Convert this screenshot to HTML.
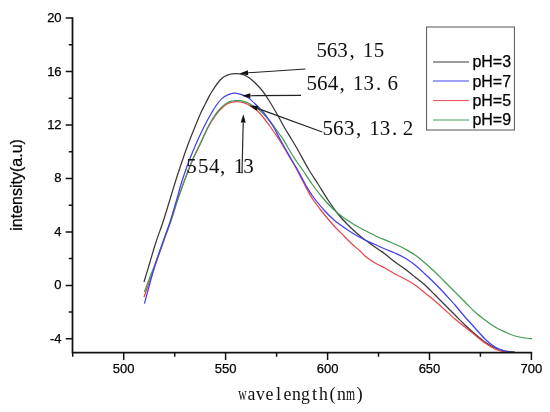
<!DOCTYPE html>
<html><head><meta charset="utf-8"><title>chart</title>
<style>
html,body{margin:0;padding:0;background:#fff;}
body{width:550px;height:412px;overflow:hidden;}
svg{display:block;filter:blur(0.3px);}
.s{font-family:"Liberation Sans",sans-serif;fill:#000;stroke:#000;stroke-width:0.25px;}
.f{font-family:"Liberation Serif",serif;fill:#111;}
</style></head><body>
<svg width="550" height="412" viewBox="0 0 550 412">
<rect width="550" height="412" fill="#fff"/>
<clipPath id="c"><rect x="73" y="10" width="465" height="342.9"/></clipPath>
<g clip-path="url(#c)" fill="none" stroke-width="1.25" stroke-linejoin="round" stroke-linecap="butt">
<path d="M144.0,282.0 C145.0,278.7 148.0,268.7 150.0,262.0 C152.0,255.3 153.8,248.7 156.0,242.0 C158.2,235.3 160.8,228.8 163.0,222.0 C165.2,215.2 167.4,207.8 169.5,201.0 C171.6,194.2 173.5,187.7 175.6,181.0 C177.7,174.3 180.1,167.2 182.2,161.0 C184.3,154.8 186.1,149.5 188.2,144.0 C190.2,138.5 192.4,133.2 194.5,128.0 C196.6,122.8 199.2,116.4 201.0,112.5 C202.8,108.6 203.7,107.2 205.0,104.5 C206.3,101.8 207.9,98.7 209.1,96.4 C210.3,94.2 211.2,92.7 212.3,91.0 C213.4,89.3 214.5,87.7 215.5,86.2 C216.5,84.7 217.4,83.3 218.5,82.0 C219.6,80.7 220.7,79.5 221.8,78.5 C222.9,77.5 223.9,76.9 225.0,76.3 C226.1,75.7 227.0,75.2 228.2,74.8 C229.4,74.4 230.7,74.1 232.0,73.9 C233.3,73.7 234.7,73.5 236.0,73.5 C237.3,73.5 238.8,73.6 240.0,73.8 C241.2,74.0 242.3,74.2 243.5,74.7 C244.7,75.2 245.8,75.8 247.0,76.5 C248.2,77.2 249.6,78.1 251.0,79.2 C252.4,80.3 254.0,81.7 255.5,83.2 C257.0,84.7 258.5,86.3 260.0,88.0 C261.5,89.7 263.0,91.5 264.5,93.6 C266.0,95.7 266.9,97.1 269.0,100.5 C271.1,103.9 274.3,109.3 277.0,114.0 C279.7,118.7 282.5,124.2 285.0,128.5 C287.5,132.8 289.7,136.1 292.0,140.0 C294.3,143.9 296.2,147.0 299.0,152.0 C301.8,157.0 305.8,164.7 309.0,170.0 C312.2,175.3 314.8,179.0 318.0,184.0 C321.2,189.0 324.7,195.0 328.0,200.0 C331.3,205.0 334.7,209.8 338.0,214.0 C341.3,218.2 344.3,221.3 348.0,225.0 C351.7,228.7 356.3,232.9 360.0,236.0 C363.7,239.1 366.7,241.1 370.0,243.5 C373.3,245.9 377.5,248.8 380.0,250.5 C382.5,252.2 382.5,252.1 385.0,254.0 C387.5,255.9 391.7,259.5 395.0,262.0 C398.3,264.5 401.7,266.5 405.0,269.0 C408.3,271.5 411.7,274.3 415.0,277.0 C418.3,279.7 421.7,282.0 425.0,285.0 C428.3,288.0 431.7,291.7 435.0,295.0 C438.3,298.3 441.7,301.7 445.0,305.0 C448.3,308.3 451.7,311.7 455.0,315.0 C458.3,318.3 461.7,321.8 465.0,325.0 C468.3,328.2 471.7,331.2 475.0,334.0 C478.3,336.8 481.7,339.7 485.0,342.0 C488.3,344.3 491.7,346.5 495.0,348.0 C498.3,349.5 501.7,350.3 505.0,351.0 C508.3,351.7 513.3,351.8 515.0,352.0" stroke="#38383c"/>
<path d="M144.0,297.0 C145.0,294.2 148.0,285.7 150.0,280.0 C152.0,274.3 153.8,269.2 156.0,263.0 C158.2,256.8 160.6,249.8 163.0,243.0 C165.4,236.2 168.1,229.0 170.5,222.0 C172.9,215.0 174.9,207.8 177.2,201.0 C179.5,194.2 181.8,187.8 184.3,181.0 C186.9,174.2 189.9,166.1 192.5,160.0 C195.1,153.9 197.6,149.6 200.0,144.5 C202.4,139.4 205.2,133.2 207.0,129.5 C208.8,125.8 209.7,124.5 211.0,122.3 C212.3,120.1 213.7,118.1 215.0,116.2 C216.3,114.3 217.7,112.5 219.0,111.0 C220.3,109.5 221.5,108.3 223.0,107.0 C224.5,105.7 226.7,104.2 228.2,103.4 C229.7,102.6 230.7,102.5 232.0,102.2 C233.3,101.9 234.7,101.7 236.0,101.7 C237.3,101.7 238.8,101.8 240.0,102.0 C241.2,102.2 242.2,102.3 243.5,102.7 C244.8,103.1 246.2,103.7 247.5,104.3 C248.8,104.9 249.9,105.8 251.1,106.5 C252.3,107.2 253.4,108.0 254.5,108.8 C255.6,109.5 256.2,109.6 257.6,111.0 C259.0,112.4 261.0,114.6 263.0,117.0 C265.0,119.4 267.4,122.8 269.4,125.5 C271.4,128.2 273.2,130.9 275.0,133.5 C276.8,136.1 278.0,137.8 280.0,141.0 C282.0,144.2 284.9,149.2 286.9,152.5 C288.9,155.8 290.3,158.1 292.0,161.0 C293.7,163.9 295.0,166.2 297.0,170.0 C299.0,173.8 301.5,178.8 304.0,183.5 C306.5,188.2 309.3,193.8 312.0,198.0 C314.7,202.2 317.3,205.5 320.0,209.0 C322.7,212.5 325.3,215.8 328.0,219.0 C330.7,222.2 333.3,225.2 336.0,228.0 C338.7,230.8 341.3,233.3 344.0,236.0 C346.7,238.7 349.3,241.5 352.0,244.0 C354.7,246.5 357.8,249.0 360.0,251.0 C362.2,253.0 362.5,254.0 365.0,256.0 C367.5,258.0 371.7,261.0 375.0,263.0 C378.3,265.0 381.7,266.2 385.0,268.0 C388.3,269.8 391.7,272.2 395.0,274.0 C398.3,275.8 401.7,277.2 405.0,279.0 C408.3,280.8 411.7,282.7 415.0,285.0 C418.3,287.3 421.7,290.3 425.0,293.0 C428.3,295.7 431.7,298.2 435.0,301.0 C438.3,303.8 441.7,307.0 445.0,310.0 C448.3,313.0 451.7,316.2 455.0,319.0 C458.3,321.8 461.7,324.3 465.0,327.0 C468.3,329.7 471.7,332.3 475.0,335.0 C478.3,337.7 481.7,340.7 485.0,343.0 C488.3,345.3 492.0,347.6 495.0,349.0 C498.0,350.4 500.7,351.1 503.0,351.6 C505.3,352.1 508.0,351.9 509.0,352.0" stroke="#e8464f"/>
<path d="M144.4,292.0 C145.3,289.5 148.1,282.0 150.0,277.0 C151.9,272.0 153.8,267.8 156.0,262.0 C158.2,256.2 160.6,248.7 163.0,242.0 C165.4,235.3 168.1,228.8 170.5,222.0 C172.9,215.2 174.9,207.8 177.2,201.0 C179.5,194.2 181.8,187.8 184.3,181.0 C186.9,174.2 189.9,166.2 192.5,160.0 C195.1,153.8 197.6,149.2 200.0,144.0 C202.4,138.8 205.2,132.8 207.0,129.0 C208.8,125.2 209.7,123.8 211.0,121.5 C212.3,119.2 213.7,117.1 215.0,115.2 C216.3,113.3 217.7,111.5 219.0,110.0 C220.3,108.5 221.5,107.2 223.0,105.9 C224.5,104.6 226.7,103.0 228.2,102.2 C229.7,101.4 230.7,101.3 232.0,101.0 C233.3,100.7 234.7,100.5 236.0,100.5 C237.3,100.5 238.8,100.6 240.0,100.7 C241.2,100.8 242.2,101.0 243.5,101.3 C244.8,101.6 246.2,102.2 247.5,102.8 C248.8,103.4 249.9,104.1 251.0,104.7 C252.1,105.3 253.0,105.8 254.0,106.3 C255.0,106.8 255.7,107.0 257.0,108.0 C258.3,109.0 260.2,110.7 262.0,112.5 C263.8,114.3 266.1,116.8 268.0,119.0 C269.9,121.2 271.7,123.4 273.5,125.8 C275.3,128.2 277.3,131.1 279.0,133.5 C280.7,135.9 281.9,137.2 283.8,140.3 C285.7,143.4 288.3,148.4 290.5,152.0 C292.7,155.6 294.9,158.9 297.0,162.0 C299.1,165.1 300.5,166.8 303.0,170.5 C305.5,174.2 308.8,179.6 312.0,184.0 C315.2,188.4 318.7,193.0 322.0,197.0 C325.3,201.0 328.7,204.8 332.0,208.0 C335.3,211.2 338.3,213.8 342.0,216.5 C345.7,219.2 350.0,222.1 354.0,224.5 C358.0,226.9 362.0,228.9 366.0,231.0 C370.0,233.1 374.0,235.2 378.0,237.0 C382.0,238.8 386.3,240.4 390.0,242.0 C393.7,243.6 397.5,245.3 400.0,246.5 C402.5,247.7 402.5,247.6 405.0,249.0 C407.5,250.4 411.7,252.7 415.0,255.0 C418.3,257.3 421.7,260.2 425.0,263.0 C428.3,265.8 431.7,268.8 435.0,272.0 C438.3,275.2 441.7,278.7 445.0,282.0 C448.3,285.3 451.7,288.7 455.0,292.0 C458.3,295.3 461.7,298.7 465.0,302.0 C468.3,305.3 471.7,309.0 475.0,312.0 C478.3,315.0 481.7,317.5 485.0,320.0 C488.3,322.5 491.7,325.0 495.0,327.0 C498.3,329.0 501.7,330.5 505.0,332.0 C508.3,333.5 511.7,335.0 515.0,336.0 C518.3,337.0 522.2,337.6 525.0,338.0 C527.8,338.4 530.8,338.5 532.0,338.6" stroke="#449c52"/>
<path d="M144.4,303.6 C145.3,300.2 148.1,289.9 150.0,283.0 C151.9,276.1 153.8,268.8 156.0,262.0 C158.2,255.2 160.7,248.7 163.0,242.0 C165.3,235.3 167.8,228.7 170.0,222.0 C172.2,215.3 174.0,208.8 176.0,202.0 C178.0,195.2 179.8,187.8 182.0,181.0 C184.2,174.2 186.7,167.2 189.0,161.0 C191.3,154.8 194.0,148.7 196.0,144.0 C198.0,139.3 199.2,136.8 201.0,133.0 C202.8,129.2 205.3,124.2 207.0,121.0 C208.7,117.8 209.6,116.4 211.0,114.0 C212.4,111.6 213.7,109.1 215.5,106.5 C217.3,103.9 219.7,100.6 221.8,98.6 C223.9,96.6 226.5,95.5 228.2,94.7 C229.9,93.9 230.8,93.8 232.0,93.5 C233.2,93.2 234.0,92.9 235.5,93.1 C237.0,93.2 238.9,93.7 240.9,94.4 C242.9,95.1 245.6,96.3 247.3,97.2 C249.0,98.1 249.6,98.6 251.0,99.9 C252.4,101.2 254.1,102.9 256.0,104.8 C257.9,106.7 260.7,109.2 262.7,111.5 C264.7,113.8 266.3,116.1 268.0,118.5 C269.7,120.9 270.9,122.4 273.0,126.0 C275.1,129.6 278.1,135.7 280.5,140.0 C282.9,144.3 285.2,148.4 287.2,152.0 C289.2,155.6 290.7,158.4 292.5,161.5 C294.3,164.6 295.8,166.5 298.0,170.5 C300.2,174.5 303.3,180.9 306.0,185.5 C308.7,190.1 311.0,193.9 314.0,198.0 C317.0,202.1 320.7,206.3 324.0,210.0 C327.3,213.7 330.7,217.1 334.0,220.0 C337.3,222.9 340.7,225.2 344.0,227.5 C347.3,229.8 350.7,232.0 354.0,234.0 C357.3,236.0 360.7,237.8 364.0,239.5 C367.3,241.2 370.5,242.4 374.0,244.0 C377.5,245.6 381.5,247.5 385.0,249.0 C388.5,250.5 391.7,251.5 395.0,253.0 C398.3,254.5 401.7,256.0 405.0,258.0 C408.3,260.0 411.7,262.3 415.0,265.0 C418.3,267.7 421.7,270.9 425.0,274.0 C428.3,277.1 431.7,280.2 435.0,283.5 C438.3,286.8 441.7,290.4 445.0,294.0 C448.3,297.6 451.7,301.2 455.0,305.0 C458.3,308.8 461.7,313.2 465.0,317.0 C468.3,320.8 471.7,324.3 475.0,328.0 C478.3,331.7 481.7,335.8 485.0,339.0 C488.3,342.2 491.7,345.0 495.0,347.0 C498.3,349.0 502.3,350.2 505.0,351.0 C507.7,351.8 510.0,351.8 511.0,352.0" stroke="#4040ee"/>
</g>
<g stroke="#111" stroke-width="1.75" fill="none">
<path d="M72.5,17.3 V352.6 H532.2"/>
<path d="M65.7,18.1 H72.5 M68.8,44.8 H72.5 M65.7,71.6 H72.5 M68.8,98.3 H72.5 M65.7,125.0 H72.5 M68.8,151.7 H72.5 M65.7,178.5 H72.5 M68.8,205.2 H72.5 M65.7,231.9 H72.5 M68.8,258.6 H72.5 M65.7,285.4 H72.5 M68.8,312.1 H72.5 M65.7,338.8 H72.5 M72.7,352.6 V356.7 M123.7,352.6 V360 M174.7,352.6 V356.7 M225.6,352.6 V360 M276.6,352.6 V356.7 M327.6,352.6 V360 M378.5,352.6 V356.7 M429.5,352.6 V360 M480.4,352.6 V356.7 M531.4,352.6 V360 " stroke-width="1.5"/>
</g>
<g class="s" font-size="13">
<text x="61.6" y="22.0" text-anchor="end">20</text>
<text x="61.6" y="75.5" text-anchor="end">16</text>
<text x="61.6" y="128.9" text-anchor="end">12</text>
<text x="61.6" y="182.4" text-anchor="end">8</text>
<text x="61.6" y="235.8" text-anchor="end">4</text>
<text x="61.6" y="289.2" text-anchor="end">0</text>
<text x="61.6" y="342.7" text-anchor="end">-4</text>
<text x="123.7" y="373.3" text-anchor="middle">500</text>
<text x="225.6" y="373.3" text-anchor="middle">550</text>
<text x="327.6" y="373.3" text-anchor="middle">600</text>
<text x="429.5" y="373.3" text-anchor="middle">650</text>
<text x="531.4" y="373.3" text-anchor="middle">700</text>
</g>
<text class="s" font-size="16" text-anchor="middle" transform="translate(22,184.9) rotate(-90)">intensity(a.u)</text>
<g class="f" font-size="18.5" text-anchor="middle">
<text transform="translate(242.5,400) scale(0.63,1)">w</text>
<text transform="translate(251.5,400) scale(0.96,1)">a</text>
<text transform="translate(260.5,400) scale(0.96,1)">v</text>
<text transform="translate(269.5,400) scale(0.96,1)">e</text>
<text transform="translate(278.5,400) scale(1.00,1)">l</text>
<text transform="translate(287.5,400) scale(0.96,1)">e</text>
<text transform="translate(296.5,400) scale(0.96,1)">n</text>
<text transform="translate(305.5,400) scale(0.96,1)">g</text>
<text transform="translate(314.5,400) scale(1.00,1)">t</text>
<text transform="translate(323.5,400) scale(0.96,1)">h</text>
<text transform="translate(332.5,400) scale(1.00,1)">(</text>
<text transform="translate(341.5,400) scale(0.96,1)">n</text>
<text transform="translate(350.5,400) scale(0.63,1)">m</text>
<text transform="translate(359.5,400) scale(1.00,1)">)</text>
</g>
<g class="f" font-size="21" text-anchor="middle">
<text x="321.8" y="57.4">5</text>
<text x="332.0" y="57.4">6</text>
<text x="342.5" y="57.4">3</text>
<text x="352.0" y="57.4">,</text>
<text x="368.0" y="57.4">1</text>
<text x="379.0" y="57.4">5</text>
<text x="311.7" y="90.0">5</text>
<text x="322.3" y="90.0">6</text>
<text x="333.0" y="90.0">4</text>
<text x="342.2" y="90.0">,</text>
<text x="358.0" y="90.0">1</text>
<text x="368.7" y="90.0">3</text>
<text x="378.5" y="90.0">.</text>
<text x="392.7" y="90.0">6</text>
<text x="327.7" y="135.0">5</text>
<text x="338.3" y="135.0">6</text>
<text x="349.2" y="135.0">3</text>
<text x="358.7" y="135.0">,</text>
<text x="374.5" y="135.0">1</text>
<text x="385.0" y="135.0">3</text>
<text x="394.7" y="135.0">.</text>
<text x="408.0" y="135.0">2</text>
<text x="191.6" y="173.3">5</text>
<text x="203.3" y="173.3">5</text>
<text x="214.3" y="173.3">4</text>
<text x="222.6" y="173.3">,</text>
<text x="238.9" y="173.3">1</text>
<text x="248.4" y="173.3">3</text>
</g>
<path d="M305.5,69.0 L248.1,72.8" stroke="#222" stroke-width="1.15" fill="none"/>
<path d="M239.6,73.4 L247.9,70.3 L248.2,75.3 Z" fill="#111"/>
<path d="M301.0,95.4 L250.4,95.7" stroke="#222" stroke-width="1.15" fill="none"/>
<path d="M241.9,95.7 L250.4,93.2 L250.4,98.2 Z" fill="#111"/>
<path d="M322.2,132.0 L257.6,108.4" stroke="#222" stroke-width="1.15" fill="none"/>
<path d="M249.6,105.5 L258.4,106.1 L256.7,110.8 Z" fill="#111"/>
<path d="M242.0,173.5 L243.2,122.7" stroke="#222" stroke-width="1.15" fill="none"/>
<path d="M243.4,114.2 L245.7,122.8 L240.7,122.6 Z" fill="#111"/>
<rect x="426.6" y="27" width="87.8" height="103" fill="none" stroke="#555" stroke-width="1"/>
<path d="M433,62.0 H469" stroke="#38383c" stroke-width="1"/>
<text class="s" font-size="16" x="472.4" y="67.4">pH=3</text>
<path d="M433,81.0 H469" stroke="#4040ee" stroke-width="1"/>
<text class="s" font-size="16" x="472.4" y="87.0">pH=7</text>
<path d="M433,100.6 H469" stroke="#e8464f" stroke-width="1"/>
<text class="s" font-size="16" x="472.4" y="106.0">pH=5</text>
<path d="M433,120.0 H469" stroke="#449c52" stroke-width="1"/>
<text class="s" font-size="16" x="472.4" y="125.4">pH=9</text>
</svg>
</body></html>
